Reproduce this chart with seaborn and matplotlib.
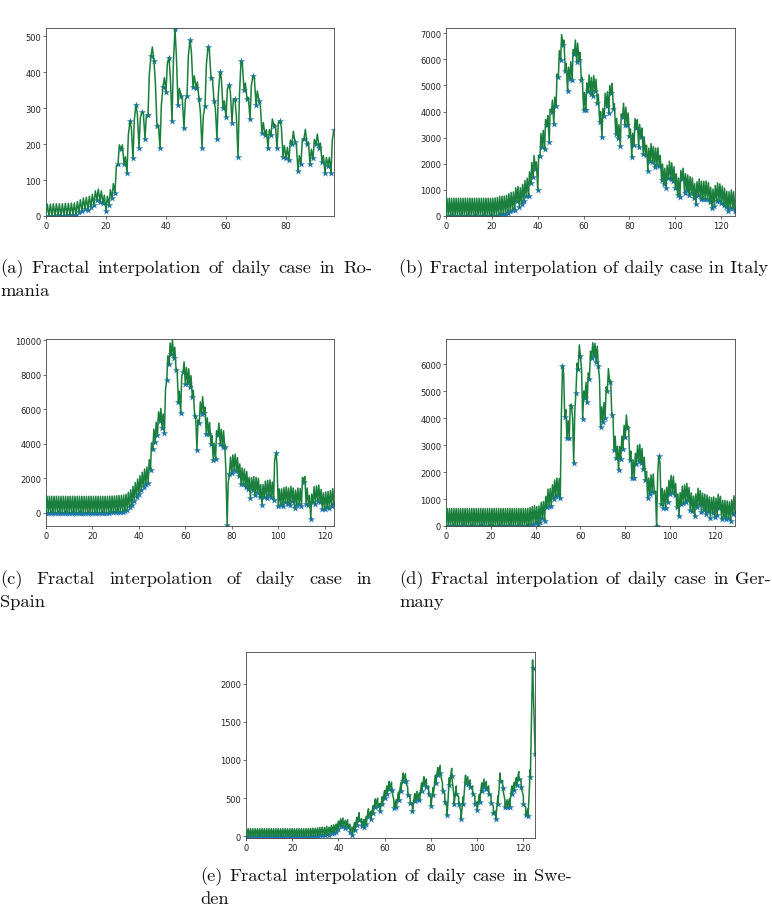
import numpy as np
import pandas as pd
import matplotlib
matplotlib.use("Agg")
import matplotlib.pyplot as plt
import seaborn as sns

# ---------------- data ----------------
# star markers = daily values; peaks = top of the green fractal curve in each interval
romania_days = [0, 0, 1, 0, 2, 0, 1, 3, 2, 4, 3, 10, 15, 20, 18, 25, 30, 45, 40, 35,
                15, 30, 50, 65, 145, 185, 145, 120, 265, 160, 310, 190, 290, 215, 280, 445, 430, 250, 190, 360,
                345, 440, 265, 520, 310, 335, 245, 335, 490, 360, 355, 325, 190, 305, 470, 385, 320, 215, 400, 300,
                275, 365, 260, 325, 165, 430, 350, 325, 270, 390, 310, 320, 230, 225, 190, 225, 250, 190, 265, 165,
                160, 155, 200, 205, 125, 145, 215, 200, 145, 160, 200, 190, 150, 120, 140, 120, 238]
romania_peaks = [33, 33, 34, 34, 34, 34, 35, 35, 36, 36, 40, 45, 50, 52, 55, 60, 70, 75, 70, 58,
                 55, 73, 90, 138, 198, 198, 165, 225, 245, 268, 283, 273, 285, 280, 395, 470, 373, 253, 308, 385,
                 425, 385, 425, 448, 355, 323, 323, 445, 458, 390, 373, 290, 280, 420, 460, 385, 300, 340, 383, 320,
                 353, 345, 325, 278, 330, 423, 370, 330, 363, 383, 348, 308, 260, 240, 240, 270, 253, 260, 248, 196,
                 191, 211, 236, 198, 168, 213, 241, 206, 186, 213, 228, 203, 168, 163, 163, 212]

italy_days = [0, 2, 0, 0, 0, 0, 0, 1, 0, 0, 0, 0, 0, 0, 0, 0, 0, 0, 0, 0,
              0, 0, 17, 42, 93, 74, 93, 131, 202, 233, 240, 566, 342, 466, 587, 769, 778, 1247, 1492, 1797,
              977, 2313, 2651, 2547, 3497, 2823, 4000, 3526, 4207, 5322, 5986, 6557, 5560, 4789, 5249, 5210, 6203, 5909, 5974, 5217,
              4050, 4053, 4782, 4668, 4585, 4805, 4316, 3599, 3039, 3836, 4204, 3951, 4694, 4092, 3153, 2972, 2667, 3786, 3493, 3491,
              3047, 2256, 2729, 3370, 2646, 3021, 2357, 2324, 1739, 2091, 2086, 1872, 1965, 1900, 1389, 1221, 1075, 1444, 1401, 1327,
              1083, 802, 744, 1402, 888, 992, 789, 875, 675, 451, 813, 665, 642, 652, 669, 531, 300, 397, 584, 593,
              516, 416, 355, 178, 318, 321, 177]
italy_peaks = [680, 680, 680, 680, 680, 680, 680, 680, 680, 680, 680, 680, 680, 680, 680, 680, 680, 680, 680, 680,
               680, 690, 710, 750, 760, 760, 790, 850, 900, 920, 1080, 1130, 1080, 1210, 1360, 1450, 1690, 2050, 2320, 2070,
               2320, 3160, 3280, 3700, 3840, 4090, 4440, 4550, 5440, 6330, 6950, 6740, 5850, 5700, 5910, 6380, 6740, 6620, 6270, 5310,
               4730, 5100, 5400, 5310, 5380, 5240, 4640, 4000, 4120, 4700, 4760, 5000, 5070, 4300, 3740, 3500, 3910, 4320, 4170, 3950,
               3330, 3170, 3730, 3690, 3510, 3370, 3020, 2710, 2600, 2770, 2660, 2600, 2610, 2320, 1990, 1830, 1940, 2100, 2040, 1890,
               1620, 1450, 1750, 1830, 1620, 1570, 1510, 1460, 1240, 1310, 1420, 1330, 1330, 1340, 1280, 1100, 1030, 1170, 1270, 1230,
               1150, 1070, 950, 930, 1000, 930]

spain_days = [0, 1, 0, 0, 0, 0, 0, 0, 0, 1, 0, 0, 0, 0, 0, 0, 0, 0, 0, 0,
              0, 0, 0, 0, 0, 2, 4, 3, 10, 15, 20, 30, 40, 60, 80, 150, 300, 450, 700, 900,
              1100, 1300, 1500, 1650, 1750, 2500, 3700, 4100, 4500, 5300, 4900, 4650, 7700, 8600, 9200, 9000, 8300, 6400, 5800, 8150,
              7450, 7500, 7300, 6700, 5600, 3650, 5200, 5750, 5800, 4550, 4550, 4000, 3050, 3100, 4500, 4000, 3800, 3800, -740, 2250,
              2300, 2500, 2400, 2100, 1650, 1650, 1500, 1350, 850, 1300, 1000, 1200, 900, 450, 900, 850, 1000, 900, 750, 3450,
              400, 450, 400, 600, 500, 450, 700, 250, 450, 500, 400, 1800, 500, 450, -350, 600, 500, 700, 600, 200,
              200, 300, 250, 400, 500]
spain_peaks = [950, 950, 950, 950, 950, 950, 950, 950, 950, 950, 950, 950, 950, 950, 950, 950, 950, 950, 950, 950,
               950, 950, 950, 950, 950, 950, 950, 960, 960, 970, 980, 990, 1000, 1020, 1070, 1180, 1330, 1530, 1750, 1950,
               2150, 2350, 2530, 2650, 3080, 4050, 4850, 5250, 5850, 6050, 5730, 7130, 9100, 9850, 10050, 9600, 8300, 7050, 7930, 8750,
               8430, 8350, 7950, 7100, 5580, 5380, 6430, 6730, 6130, 5500, 5230, 4480, 4030, 4750, 5200, 4850, 4750, 2480, 1710, 3230,
               3350, 3400, 3200, 2830, 2600, 2530, 2380, 2050, 2030, 2100, 2050, 2000, 1630, 1630, 1830, 1880, 1900, 1780, 3050, 2880,
               1380, 1380, 1450, 1500, 1430, 1530, 1430, 1300, 1430, 1400, 2050, 2100, 1430, 1000, 1080, 1500, 1550, 1600, 1350, 1150,
               1200, 1230, 1280, 1400]

germany_days = [0, 0, 0, 0, 0, 0, 0, 0, 0, 0, 0, 0, 0, 0, 0, 0, 0, 0, 0, 0,
                0, 0, 0, 0, 0, 0, 0, 0, 0, 0, 0, 0, 0, 0, 0, 0, 0, 0, 50, 80,
                120, 20, 150, 310, 200, 700, 730, 750, 1010, 1100, 1150, 1050, 5950, 4060, 3260, 3260, 4450, 2340, 4950, 5820,
                6320, 3970, 4750, 4600, 5460, 6220, 6340, 6100, 5930, 3670, 3860, 4000, 5010, 5360, 4130, 2830, 2520, 2090, 2500, 2870,
                3300, 3640, 2460, 1790, 1790, 2300, 2400, 2350, 2100, 1700, 1050, 1200, 1300, 1250, 0, 2590, 800, 680, 680, 900,
                1200, 1250, 1150, 700, 370, 800, 850, 900, 950, 600, 550, 370, 700, 800, 530, 600, 450, 550, 300, 500,
                350, 400, 650, 250, 350, 250, 300, 200, 430, 500]
germany_peaks = [650, 650, 650, 650, 650, 650, 650, 650, 650, 650, 650, 650, 650, 650, 650, 650, 650, 650, 650, 650,
                 650, 650, 650, 650, 650, 650, 650, 650, 650, 650, 650, 650, 650, 650, 650, 650, 650, 680, 720, 750,
                 720, 740, 880, 910, 1100, 1370, 1390, 1530, 1710, 1780, 1750, 4150, 5660, 4310, 3910, 4510, 4050, 4300, 6040, 6720,
                 5800, 5010, 5330, 5680, 6490, 6800, 6780, 6670, 5450, 4420, 4580, 5160, 5840, 5400, 4130, 3330, 2960, 2950, 3340, 3740,
                 4120, 3700, 2780, 2440, 2700, 3000, 3030, 2880, 2550, 2030, 1780, 1900, 1930, 1280, 1950, 2350, 1390, 1330, 1440, 1700,
                 1880, 1850, 1580, 1190, 1240, 1480, 1530, 1580, 1430, 1230, 1110, 1190, 1400, 1320, 1220, 1180, 1150, 1080, 1050, 1080,
                 1030, 1180, 1100, 950, 950, 930, 900, 970, 1120]

sweden_days = [0, 1, 0, 0, 0, 0, 0, 0, 0, 0, 0, 0, 0, 0, 0, 0, 0, 0, 0, 0,
               0, 0, 0, 0, 0, 0, 1, 2, 5, 7, 5, 10, 15, 20, 15, 30, 20, 40, 50, 60,
               100, 130, 140, 110, 120, 60, 20, 80, 150, 210, 130, 120, 160, 260, 230, 300, 390, 400, 330, 420,
               500, 560, 620, 610, 370, 380, 480, 600, 730, 720, 540, 440, 330, 460, 490, 470, 600, 680, 650, 560,
               400, 540, 700, 800, 830, 600, 450, 280, 670, 790, 420, 560, 420, 230, 420, 700, 680, 640, 560, 430,
               350, 450, 600, 650, 620, 560, 440, 300, 230, 430, 730, 630, 380, 380, 390, 560, 610, 670, 750, 640,
               430, 280, 260, 780, 2210, 1075]
sweden_peaks = [101, 100, 100, 100, 100, 100, 100, 100, 100, 100, 100, 100, 100, 100, 100, 100, 100, 100, 100, 100,
                100, 100, 100, 100, 100, 101, 102, 105, 107, 105, 110, 115, 120, 115, 130, 120, 140, 150, 160, 200,
                230, 240, 210, 220, 160, 120, 180, 250, 310, 230, 220, 260, 360, 330, 400, 490, 500, 430, 520, 600,
                660, 720, 710, 470, 480, 580, 700, 830, 820, 640, 540, 430, 560, 590, 570, 700, 780, 750, 660, 500,
                640, 800, 900, 930, 700, 550, 380, 770, 890, 520, 660, 520, 330, 520, 800, 780, 740, 660, 530, 450,
                550, 700, 750, 720, 660, 540, 400, 330, 530, 830, 730, 480, 480, 490, 660, 710, 770, 850, 740, 530,
                380, 360, 880, 2310, 1175]

captions = {
    "a": ["(a) Fractal interpolation of daily case in Ro-", "mania"],
    "b": ["(b) Fractal interpolation of daily case in Italy"],
    "c": ["(c) Fractal interpolation of daily case in", "Spain"],
    "d": ["(d) Fractal interpolation of daily case in Ger-", "many"],
    "e": ["(e) Fractal interpolation of daily case in Swe-", "den"],
}

# ---------------- style ----------------
sns.set_style("ticks")
plt.rcParams['font.family'] = ['DejaVu Sans']
STAR = '#1f77b4'
GREEN = '#1a7f3c'
CAPF = ['cmr10', 'DejaVu Serif']

W, H = 772, 920
fig = plt.figure(figsize=(W / 100, H / 100), dpi=100)

# (days, peaks, peak position inside interval, ylim, axes box in px: left, top, right, bottom)
panels = [
    (romania_days, romania_peaks, 0.45, (0, 523), (46, 29, 334, 217)),
    (italy_days, italy_peaks, 0.40, (0, 7200), (446, 29, 735, 217)),
    (spain_days, spain_peaks, 0.44, (-775, 10080), (46, 340, 334, 527)),
    (germany_days, germany_peaks, 0.51, (0, 6940), (446, 340, 735, 527)),
    (sweden_days, sweden_peaks, 0.97, (-22, 2415), (246, 653, 535, 839)),
]


def curve_table(days, peaks, frac):
    xs, ys = [], []
    for i, v in enumerate(days):
        xs.append(i)
        ys.append(v)
        if i < len(peaks):
            xs.append(i + frac)
            ys.append(peaks[i])
    return pd.DataFrame({"x": xs, "y": ys})


for days, peaks, frac, ylim, (l, t, r, b) in panels:
    ax = fig.add_axes([l / W, 1 - b / H, (r - l) / W, (b - t) / H])
    stars = pd.DataFrame({"x": np.arange(len(days)), "y": days})
    sns.scatterplot(data=stars, x="x", y="y", marker="*", s=30, color=STAR,
                    linewidth=0, ax=ax, zorder=2)
    sns.lineplot(data=curve_table(days, peaks, frac), x="x", y="y", sort=False,
                 estimator=None, color=GREEN, lw=1.1, ax=ax, zorder=3)
    ax.set_xlim(0, len(days) - 1)
    ax.set_ylim(*ylim)
    ax.set_xlabel("")
    ax.set_ylabel("")
    ax.tick_params(labelsize=6, length=2, width=0.5, color="#333333",
                   labelcolor="#222222", pad=1.5)
    for sp in ax.spines.values():
        sp.set_linewidth(0.6)
        sp.set_color("#444444")

# ---------------- captions (justified like LaTeX) ----------------
renderer = fig.canvas.get_renderer()
probe = fig.text(0, 0, captions["b"][0], fontsize=10, family=CAPF)
pw = probe.get_window_extent(renderer=renderer).width
probe.remove()
FS = 10 * 370 / pw
COLW = 372
LINE = 23


def caption(lines, x0, base0):
    for k, txt in enumerate(lines):
        yb = 1 - (base0 + k * LINE) / H
        last = (k == len(lines) - 1)
        if last:
            fig.text(x0 / W, yb, txt, fontsize=FS, family=CAPF, va="baseline",
                     ha="left", color="#111111")
            continue
        words = txt.split(" ")
        objs = [fig.text(0, yb, w, fontsize=FS, family=CAPF, va="baseline",
                         ha="left", color="#111111") for w in words]
        ws = [o.get_window_extent(renderer=renderer).width for o in objs]
        gap = (COLW - sum(ws)) / (len(words) - 1)
        x = x0
        for o, w_ in zip(objs, ws):
            o.set_x(x / W)
            x += w_ + gap


caption(captions["a"], 0, 273)
caption(captions["b"], 399, 273)
caption(captions["c"], 0, 584)
caption(captions["d"], 399, 584)
caption(captions["e"], 200, 881)

fig.savefig("out.png", dpi=100)
